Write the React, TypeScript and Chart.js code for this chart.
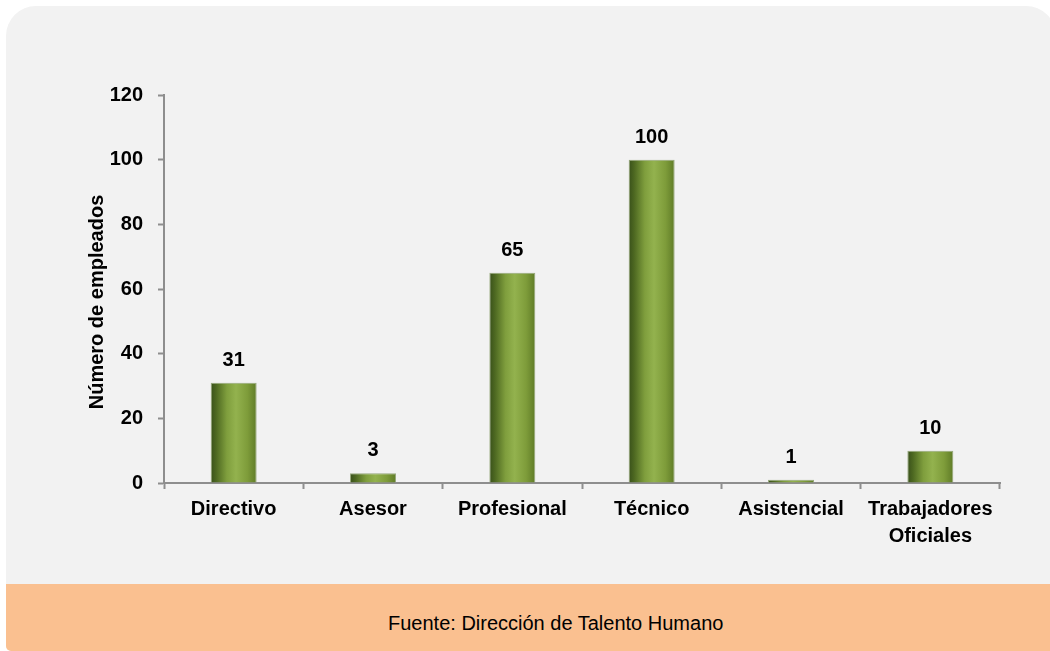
import React, { useEffect, useRef } from "react";
import { Chart, registerables } from "chart.js";

Chart.register(...registerables);

// ---- Data ----
const categories: (string | string[])[] = [
  "Directivo",
  "Asesor",
  "Profesional",
  "Técnico",
  "Asistencial",
  ["Trabajadores", "Oficiales"],
];
const employees: number[] = [31, 3, 65, 100, 1, 10];
const yTickMin = 0;
const yTickMax = 120;
const yTickStep = 20;
const yAxisTitle = "Número de empleados";
const sourceNote = "Fuente: Dirección de Talento Humano";

const FONT = "'Liberation Sans', Arial, sans-serif";
const BAR_PCT = 0.33;

const barGradient = (ctx: any) => {
  const chart = ctx.chart;
  const xs = chart.scales && chart.scales.x;
  if (!xs || ctx.dataIndex === undefined) return "#7a9a3a";
  const cx = xs.getPixelForValue(ctx.dataIndex);
  const w = (xs.width / categories.length) * BAR_PCT;
  if (!Number.isFinite(cx) || !Number.isFinite(w) || w <= 0) return "#7a9a3a";
  const g = chart.ctx.createLinearGradient(cx - w / 2, 0, cx + w / 2, 0);
  g.addColorStop(0, "#38501a");
  g.addColorStop(0.12, "#4d6821");
  g.addColorStop(0.35, "#7f9e3d");
  g.addColorStop(0.55, "#93b24e");
  g.addColorStop(0.8, "#7e9c3a");
  g.addColorStop(1, "#5f7b27");
  return g;
};

const dataLabelPlugin = {
  id: "dataLabels",
  afterDatasetsDraw(chart: any) {
    const { ctx } = chart;
    const meta = chart.getDatasetMeta(0);
    ctx.save();
    ctx.font = `bold 20px ${FONT}`;
    ctx.fillStyle = "#000";
    ctx.textAlign = "center";
    ctx.textBaseline = "alphabetic";
    meta.data.forEach((el: any, i: number) => {
      ctx.fillText(String(employees[i]), el.x, el.y - 17);
    });
    ctx.restore();
  },
};

const yTitlePlugin = {
  id: "yTitle",
  afterDraw(chart: any) {
    const { ctx } = chart;
    ctx.save();
    ctx.translate(97, 302);
    ctx.rotate(-Math.PI / 2);
    ctx.font = `bold 20px ${FONT}`;
    ctx.fillStyle = "#000";
    ctx.textAlign = "center";
    ctx.textBaseline = "middle";
    ctx.fillText(yAxisTitle, 0, 0);
    ctx.restore();
  },
};

export default function App() {
  const canvasRef = useRef<HTMLCanvasElement | null>(null);

  useEffect(() => {
    document.body.style.margin = "0";
    const canvas = canvasRef.current;
    if (!canvas) return;
    const chart = new Chart(canvas, {
      type: "bar",
      data: {
        labels: categories as any,
        datasets: [
          {
            data: employees,
            backgroundColor: barGradient as any,
            borderColor: "rgba(140,160,110,0.9)",
            borderWidth: 1,
            categoryPercentage: 1,
            barPercentage: BAR_PCT,
          },
        ],
      },
      options: {
        animation: false,
        responsive: false,
        maintainAspectRatio: false,
        layout: { padding: { top: 95, right: 50, left: 0, bottom: 0 } },
        plugins: {
          legend: { display: false },
          tooltip: { enabled: false },
          title: { display: false },
        },
        scales: {
          x: {
            offset: true,
            grid: {
              offset: true,
              drawOnChartArea: false,
              drawTicks: true,
              tickLength: 6,
              tickColor: "#8e8e8e",
              tickWidth: 2,
            },
            border: { display: true, color: "#8e8e8e", width: 2 },
            ticks: {
              color: "#000",
              padding: 7,
              maxRotation: 0,
              autoSkip: false,
              font: { family: FONT, size: 20, weight: "bold", lineHeight: 1.35 },
            },
            afterFit: (scale: any) => {
              scale.height = 101;
            },
          },
          y: {
            min: yTickMin,
            max: yTickMax,
            grid: {
              drawOnChartArea: false,
              drawTicks: true,
              tickLength: 6,
              tickColor: "#8e8e8e",
              tickWidth: 2,
            },
            border: { display: true, color: "#8e8e8e", width: 2 },
            ticks: {
              stepSize: yTickStep,
              color: "#000",
              padding: 15,
              font: { family: FONT, size: 20, weight: "bold" },
            },
            afterFit: (scale: any) => {
              scale.width = 164;
            },
          },
        },
      },
      plugins: [dataLabelPlugin, yTitlePlugin],
    });
    return () => chart.destroy();
  }, []);

  return (
    <div
      style={{
        position: "relative",
        width: 1050,
        height: 651,
        overflow: "hidden",
        background: "#ffffff",
      }}
    >
      <div
        style={{
          position: "absolute",
          left: 6,
          top: 6,
          width: 1050,
          height: 645,
          background: "#f2f2f2",
          borderTopLeftRadius: 30,
          borderTopRightRadius: 30,
          borderBottomLeftRadius: 5,
          overflow: "hidden",
        }}
      >
        <div
          style={{
            position: "absolute",
            left: 0,
            top: 578,
            width: 1050,
            height: 67,
            background: "#FAC090",
          }}
        />
      </div>
      <canvas
        ref={canvasRef}
        width={1050}
        height={584}
        style={{ position: "absolute", left: 0, top: 0, width: 1050, height: 584 }}
      />
      <div
        style={{
          position: "absolute",
          left: 388,
          top: 613,
          fontFamily: FONT,
          fontSize: 20,
          lineHeight: "20px",
          color: "#000",
          whiteSpace: "nowrap",
        }}
      >
        {sourceNote}
      </div>
    </div>
  );
}
